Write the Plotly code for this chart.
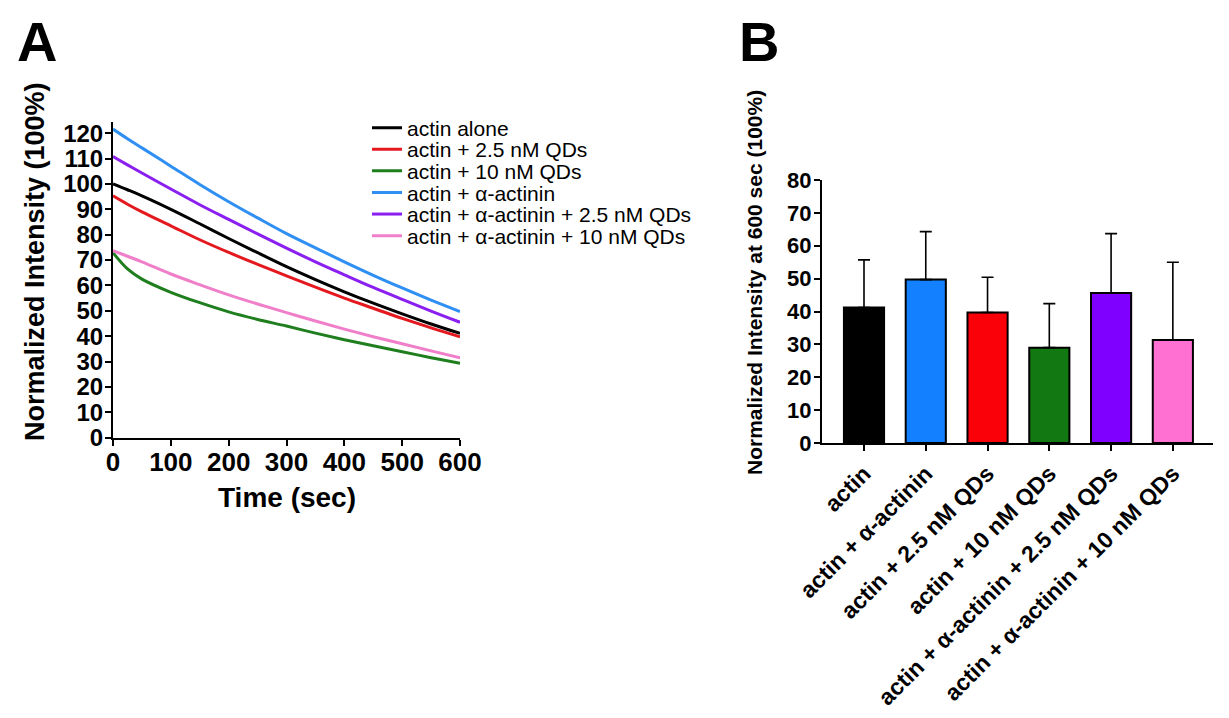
import plotly.graph_objects as go

# Panel A: photobleaching time courses
time_s = [0, 25, 50, 100, 150, 200, 250, 300, 350, 400, 450, 500, 550, 600]
actin_alone = [100, 97.7, 95.3, 90, 84.3, 78.5, 72.9, 67.4, 62.3, 57.5, 53, 48.8, 44.8, 41.1]
actin_qd25 = [95.3, 92, 89, 83.5, 78, 73, 68.3, 63.8, 59.3, 55, 51, 47, 43.3, 39.8]
actin_qd10 = [72.9, 66.5, 62.5, 57.3, 53.2, 49.6, 46.6, 44, 41.2, 38.6, 36.2, 33.9, 31.5, 29.3]
actin_act = [121.6, 117.8, 114.2, 107, 99.8, 93, 86.6, 80.4, 74.8, 69.3, 64, 59, 54.2, 49.7]
actin_act_qd25 = [110.8, 107.5, 104.3, 98, 91.8, 86, 80.3, 74.7, 69.3, 64.2, 59.2, 54.5, 49.9, 45.5]
actin_act_qd10 = [73.7, 71.5, 69.3, 64.5, 60.3, 56.3, 52.7, 49.3, 46, 42.8, 39.8, 37, 34.2, 31.5]

line_names = ["actin alone", "actin + 2.5 nM QDs", "actin + 10 nM QDs", "actin + α-actinin",
              "actin + α-actinin + 2.5 nM QDs", "actin + α-actinin + 10 nM QDs"]
line_colors = ["#000000", "#e4191f", "#1f7f1f", "#2f8ff2", "#8a1ff0", "#f07fca"]

# Panel B: intensity at 600 sec, mean and upper error
bar_labels = ["actin", "actin + α-actinin", "actin + 2.5 nM QDs", "actin + 10 nM QDs",
              "actin + α-actinin + 2.5 nM QDs", "actin + α-actinin + 10 nM QDs"]
bar_means = [41.2, 49.7, 39.7, 29.0, 45.6, 31.3]
bar_upper = [55.7, 64.3, 50.4, 42.4, 63.7, 55.0]
bar_colors = ["#000000", "#1280ff", "#fa0008", "#127812", "#8000ff", "#ff70d2"]

FONT = "Liberation Sans, Arial, sans-serif"
W, H = 1229, 718
PAD = 8  # the page body adds this much before the plot starts


def fx(px):
    return (px - PAD) / W


def fy(py):
    return 1 - (py - PAD) / H


fig = go.Figure()

series = [actin_alone, actin_qd25, actin_qd10, actin_act, actin_act_qd25, actin_act_qd10]
legend_ids = ["legend", "legend2", "legend3", "legend4", "legend5", "legend6"]
for name, col, vals, lg in zip(line_names, line_colors, series, legend_ids):
    fig.add_trace(go.Scatter(x=time_s, y=vals, name=name, mode="lines",
                             line=dict(color=col, width=3, shape="spline"),
                             legend=lg, xaxis="x", yaxis="y"))

err = [u - m for u, m in zip(bar_upper, bar_means)]
fig.add_trace(go.Bar(x=bar_labels, y=bar_means, marker=dict(color=bar_colors,
                     line=dict(color="black", width=2)),
                     width=0.65, showlegend=False,
                     error_y=dict(type="data", symmetric=False, array=err,
                                  arrayminus=[0] * len(err), color="black",
                                  thickness=1.6, width=6),
                     xaxis="x2", yaxis="y2"))

axis_common = dict(showline=True, linecolor="black", linewidth=2, ticks="outside",
                   tickcolor="black", tickwidth=2, ticklen=6, showgrid=False,
                   zeroline=False, automargin=False)

# one single-entry legend per line so the rows sit as tightly as in the figure
legends = {}
for i, lg in enumerate(legend_ids):
    yc = 128 + i * 21.6
    legends[lg] = dict(x=fx(367), y=fy(yc), xanchor="left", yanchor="middle",
                       bgcolor="rgba(0,0,0,0)", font=dict(size=21, family=FONT),
                       itemwidth=30)


def label(text, x, y, size, angle=0):
    return dict(text=text, x=fx(x), y=fy(y), xref="paper", yref="paper",
                xanchor="center", yanchor="middle", textangle=angle,
                showarrow=False, font=dict(size=size, family=FONT, color="black"))


fig.update_layout(
    width=W, height=H,
    paper_bgcolor="white", plot_bgcolor="white",
    margin=dict(l=0, r=0, t=0, b=0),
    font=dict(family=FONT, color="black"),
    xaxis=dict(domain=[fx(113), fx(460)], range=[0, 600],
               tickvals=[0, 100, 200, 300, 400, 500, 600], ticklabelstandoff=-6,
               tickfont=dict(size=26, weight="bold"), anchor="y", **axis_common),
    yaxis=dict(domain=[fy(437.7), fy(122)], range=[0, 124.4], dtick=10,
               ticklabelstandoff=-3,
               tickfont=dict(size=24, weight="bold"), anchor="x", **axis_common),
    xaxis2=dict(domain=[fx(822), fx(1213)], range=[-0.68, 5.65], tickangle=-45,
                tickfont=dict(size=23, weight="bold"), anchor="y2", **axis_common),
    yaxis2=dict(domain=[fy(443), fy(180)], range=[0, 80], dtick=10,
                ticklabelstandoff=-2,
                tickfont=dict(size=22, weight="bold"), anchor="x2", **axis_common),
    bargap=0.35,
    annotations=[
        label("<b>A</b>", 36.5, 42, 56),
        label("<b>B</b>", 758.5, 42, 56),
        label("<b>Normalized Intensity (100%)</b>", 35, 262, 27, -90),
        label("<b>Time (sec)</b>", 287, 497, 28),
        label("<b>Normalized Intensity at 600 sec (100%)</b>", 754, 283, 21, -90),
    ],
    **legends,
)

fig.write_html("out.html")
